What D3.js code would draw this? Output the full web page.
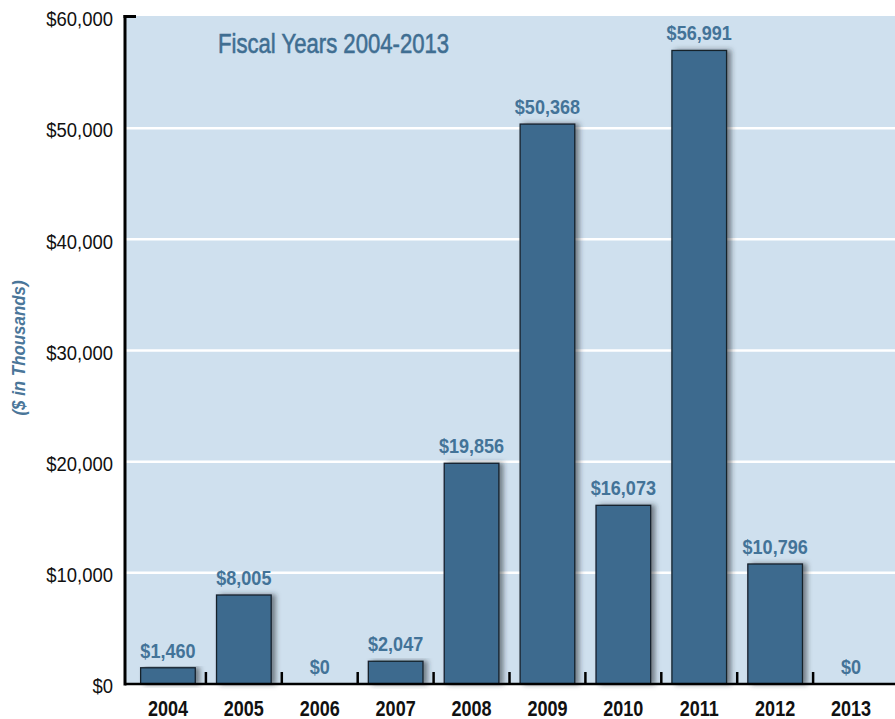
<!DOCTYPE html>
<html>
<head>
<meta charset="utf-8">
<script src="https://cdn.jsdelivr.net/npm/d3@7"></script>
<style>
  html, body { margin: 0; padding: 0; background: #ffffff; }
  svg { display: block; }
  text { font-family: "Liberation Sans", Arial, sans-serif; }
</style>
</head>
<body>
<svg id="chart" width="895" height="719"></svg>
<script>
const categories = ["2004","2005","2006","2007","2008","2009","2010","2011","2012","2013"];
const values = [1460, 8005, 0, 2047, 19856, 50368, 16073, 56991, 10796, 0];
const valueLabels = ["$1,460","$8,005","$0","$2,047","$19,856","$50,368","$16,073","$56,991","$10,796","$0"];
const yTicks = [0, 10000, 20000, 30000, 40000, 50000, 60000];
const yTickLabels = ["$0","$10,000","$20,000","$30,000","$40,000","$50,000","$60,000"];
const titleText = "Fiscal Years 2004-2013";
const yAxisTitle = "($ in Thousands)";

const svg = d3.select("#chart");
const W = 895, H = 719;
const m = { left: 125, right: 4, top: 17, bottom: 35 };
const plotL = m.left, plotR = W - m.right, plotT = m.top, plotB = H - m.bottom;

const x = d3.scaleBand().domain(categories).range([plotL + 5, plotR - 2]).paddingInner(0.28).paddingOuter(0.14);
const y = d3.scaleLinear().domain([0, 60000]).range([plotB, plotT]);

// condensed text helper: horizontal scale about the text's own anchor
function condense(sel, sx) {
  sel.each(function () {
    const t = d3.select(this);
    const xv = parseFloat(t.attr("x") || 0);
    t.attr("x", xv / sx).attr("transform", `scale(${sx},1)`);
  });
}

const defs = svg.append("defs");
const f = defs.append("filter").attr("id", "shadow").attr("x", "-20%").attr("y", "-10%").attr("width", "150%").attr("height", "130%");
f.append("feDropShadow").attr("dx", 4).attr("dy", 0).attr("stdDeviation", 2.5).attr("flood-color", "#2a3038").attr("flood-opacity", 0.55);

// background
svg.append("rect").attr("x", plotL + 1).attr("y", plotT - 1).attr("width", W - plotL - 1).attr("height", plotB - plotT + 1).attr("fill", "#cfe0ee");

// grid lines
svg.append("g").selectAll("line").data(yTicks.filter(d => d > 0 && d < 60000)).join("line")
  .attr("x1", plotL).attr("x2", W)
  .attr("y1", d => y(d)).attr("y2", d => y(d))
  .attr("stroke", "#ffffff").attr("stroke-width", 2.5);

// bars
svg.append("g").selectAll("rect").data(values.map((v, i) => ({ v, c: categories[i] })).filter(d => d.v > 0)).join("rect")
  .attr("x", d => x(d.c)).attr("width", x.bandwidth())
  .attr("y", d => y(d.v)).attr("height", d => y(0) - y(d.v))
  .attr("fill", "#3d6b8e").attr("stroke", "#15202c").attr("stroke-width", 1.3)
  .attr("filter", "url(#shadow)");

// value labels
const vl = svg.append("g").selectAll("text").data(values.map((v, i) => ({ v, c: categories[i], l: valueLabels[i] }))).join("text")
  .attr("x", d => x(d.c) + x.bandwidth() / 2)
  .attr("y", d => y(d.v) - 10)
  .attr("text-anchor", "middle")
  .attr("fill", "#437398")
  .attr("font-size", 21).attr("font-weight", "bold")
  .text(d => d.l);
condense(vl, 0.86);

// y axis
const yAxis = d3.axisLeft(y).tickValues(yTicks).tickFormat((d, i) => yTickLabels[i]).tickSize(0).tickPadding(12);
const gy = svg.append("g").attr("transform", `translate(${plotL},0)`).call(yAxis);
gy.select(".domain").remove();
gy.selectAll("text").attr("font-size", 21).attr("fill", "#111").attr("dy", "0.42em")
  .attr("font-family", "\"Liberation Sans\", Arial, sans-serif");
condense(gy.selectAll("text"), 0.88);
svg.append("line").attr("x1", plotL).attr("x2", plotL).attr("y1", plotT - 2).attr("y2", plotB + 1.5).attr("stroke", "#000").attr("stroke-width", 3);
svg.append("line").attr("x1", plotL - 1.5).attr("x2", plotL + 11).attr("y1", plotT - 0.5).attr("y2", plotT - 0.5).attr("stroke", "#000").attr("stroke-width", 3);

// x axis
svg.append("line").attr("x1", plotL).attr("x2", W).attr("y1", plotB).attr("y2", plotB).attr("stroke", "#000").attr("stroke-width", 2.5);
const bounds = categories.slice(1).map(c => x(c) - x.step() * x.paddingInner() / 2);
svg.append("g").selectAll("line").data(bounds).join("line")
  .attr("x1", d => d).attr("x2", d => d).attr("y1", plotB).attr("y2", plotB - 12)
  .attr("stroke", "#000").attr("stroke-width", 2.5);
const xAxis = d3.axisBottom(x).tickSize(0).tickPadding(16);
const gx = svg.append("g").attr("transform", `translate(0,${plotB})`).call(xAxis);
gx.select(".domain").remove();
gx.selectAll("text").attr("font-size", 22).attr("font-weight", "bold").attr("fill", "#111")
  .attr("font-family", "\"Liberation Sans\", Arial, sans-serif");
condense(gx.selectAll("text"), 0.82);

// title
const tt = svg.append("text").attr("x", 218).attr("y", 53).attr("fill", "#3f6e92")
  .attr("stroke", "#3f6e92").attr("stroke-width", 0.6)
  .attr("font-size", 28).text(titleText);
condense(tt, 0.79);

// y axis title
svg.append("g").attr("transform", `translate(25,${348}) rotate(-90)`)
  .append("text").attr("text-anchor", "middle")
  .attr("fill", "#4a7699").attr("font-size", 19).attr("font-weight", "bold").attr("font-style", "italic")
  .attr("transform", "scale(0.89,1)")
  .text(yAxisTitle);
</script>
</body>
</html>
